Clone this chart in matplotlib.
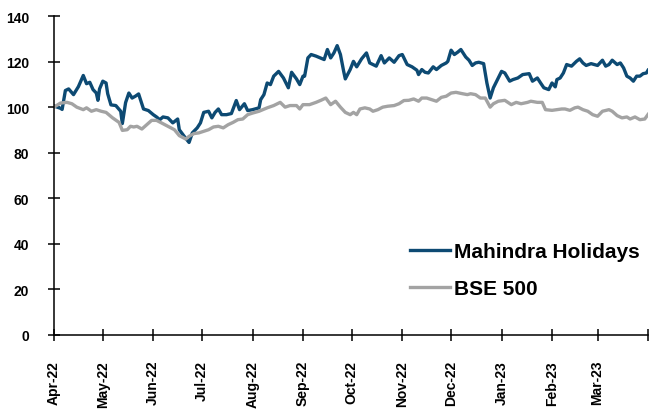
import matplotlib
matplotlib.use("Agg")
import matplotlib.pyplot as plt
import pandas as pd

# 讀圖估計的數值（以 2022-04-01 為第 0 天）
start = pd.Timestamp("2022-04-01")

mhrl_days = [0, 4, 5, 7, 9, 12, 15, 18, 20, 22, 24, 26, 27, 28, 30, 32, 33, 35, 38, 41,
             42, 44, 46, 48, 50, 52, 55, 58, 61, 63, 65, 67, 70, 73, 76, 77, 80, 83, 85, 88,
             90, 92, 95, 97, 99, 101, 103, 106, 109, 112, 114, 117, 119, 122, 126, 127, 129, 131, 133, 135,
             138, 141, 144, 146, 149, 151, 153, 154, 156, 158, 161, 166, 168, 170, 172, 174, 176, 178, 179, 182,
             184, 186, 189, 192, 194, 196, 198, 201, 203, 206, 209, 212, 214, 217, 220, 223, 224, 226, 228, 230,
             233, 235, 238, 241, 242, 244, 246, 248, 250, 253, 255, 257, 259, 261, 264, 266, 268, 270, 272, 275,
             277, 280, 282, 285, 288, 292, 294, 297, 299, 301, 304, 306, 308, 309, 311, 313, 315, 318, 321, 323,
             325, 327, 330, 334, 337, 339, 341, 343, 346, 348, 350, 352, 354, 356, 358, 360, 362, 364, 365]
mhrl_vals = [100.5, 99.5, 99.0, 107.3, 108.0, 105.5, 109.0, 113.9, 110.3, 110.9, 107.7, 106.2, 103.0, 108.0, 111.4, 110.6, 105.9, 101.0, 100.7, 98.2,
             92.8, 102.0, 106.2, 104.0, 104.8, 105.8, 99.2, 98.5, 96.7, 95.7, 94.5, 95.7, 95.3, 93.1, 94.8, 90.1, 87.2, 84.5, 88.7, 90.9,
             93.1, 97.7, 98.2, 95.3, 97.7, 99.2, 96.7, 96.7, 97.2, 102.9, 98.9, 101.5, 98.5, 98.9, 99.7, 103.3, 105.5, 110.6, 109.9, 113.6,
             115.7, 112.8, 108.5, 115.3, 112.4, 109.9, 113.6, 113.6, 121.6, 123.1, 122.4, 120.9, 125.3, 121.6, 123.8, 127.0, 123.1, 115.7, 112.4, 116.5,
             120.1, 117.7, 121.2, 123.8, 119.4, 118.7, 118.0, 122.6, 119.4, 121.6, 119.7, 122.6, 123.1, 118.7, 117.7, 116.2, 114.3, 116.5, 115.3, 115.0,
             117.7, 116.5, 118.3, 119.4, 120.1, 125.0, 123.1, 124.1, 125.3, 122.0, 120.6, 118.3, 119.4, 119.7, 119.1, 110.6, 104.0, 108.5, 111.4, 115.7,
             115.0, 111.4, 112.1, 112.8, 114.3, 114.7, 111.4, 112.8, 110.6, 108.5, 107.7, 110.6, 108.9, 112.1, 112.8, 115.0, 118.7, 118.0, 120.1, 121.2,
             119.4, 118.3, 119.1, 118.3, 120.6, 118.0, 118.7, 120.6, 118.7, 119.4, 117.2, 113.6, 112.8, 111.4, 113.6, 113.6, 114.7, 115.0, 116.2]

bse_days = [0, 4, 8, 11, 14, 18, 20, 23, 26, 29, 32, 36, 40, 42, 45, 47, 49, 51, 54, 57,
            60, 63, 66, 70, 74, 77, 81, 83, 86, 89, 92, 95, 98, 101, 104, 107, 110, 113, 116, 119,
            122, 126, 131, 135, 139, 142, 145, 149, 151, 153, 157, 161, 164, 167, 170, 173, 176, 179, 182, 184,
            186, 188, 191, 194, 196, 199, 202, 205, 209, 212, 215, 218, 221, 224, 226, 229, 232, 235, 238, 241,
            244, 247, 251, 254, 256, 259, 262, 265, 268, 270, 273, 277, 281, 284, 287, 291, 293, 297, 300, 302,
            306, 309, 312, 314, 317, 320, 322, 325, 328, 331, 334, 337, 341, 343, 346, 349, 352, 354, 357, 360,
            363, 365]
bse_vals = [100.0, 101.8, 102.1, 101.5, 100.0, 98.9, 99.7, 98.2, 98.9, 98.2, 97.7, 95.3, 93.3, 89.8, 90.1, 91.6, 91.3, 91.6, 90.4, 92.3,
            94.2, 94.2, 93.1, 91.6, 90.1, 87.5, 86.0, 87.2, 88.4, 88.7, 89.4, 90.1, 91.3, 91.6, 90.9, 92.3, 93.3, 94.5, 94.8, 96.7,
            97.4, 98.2, 99.7, 100.7, 102.1, 100.0, 100.7, 100.7, 99.2, 101.1, 101.1, 102.1, 103.0, 104.0, 101.1, 102.6, 100.0, 97.7, 96.7, 97.7,
            96.7, 99.2, 99.7, 99.2, 98.2, 98.9, 100.0, 100.4, 100.7, 101.5, 102.9, 103.0, 103.6, 102.6, 104.0, 104.0, 103.3, 102.6, 104.3, 104.8,
            106.2, 106.5, 105.9, 105.5, 105.9, 105.5, 104.0, 104.0, 100.0, 101.5, 102.6, 103.0, 101.1, 102.1, 101.5, 102.1, 102.6, 102.1, 102.1, 98.9,
            98.6, 98.9, 99.2, 99.2, 98.6, 99.7, 100.0, 98.9, 98.2, 96.7, 96.0, 98.2, 98.9, 98.2, 96.3, 95.3, 95.7, 94.8, 95.7, 94.5,
            94.8, 96.8]

month_labels = ["Apr-22", "May-22", "Jun-22", "Jul-22", "Aug-22", "Sep-22", "Oct-22",
                "Nov-22", "Dec-22", "Jan-23", "Feb-23", "Mar-23", ""]

mhrl_dates = start + pd.to_timedelta(mhrl_days, unit="D")
bse_dates = start + pd.to_timedelta(bse_days, unit="D")

font = ["Liberation Sans", "DejaVu Sans"]
plt.rcParams["font.family"] = font
plt.rcParams["font.weight"] = "bold"

fig = plt.figure(figsize=(6.52, 4.10), dpi=100)
ax = fig.add_axes([0.0828, 0.1805, 0.9111, 0.778])

ax.plot(mhrl_dates, mhrl_vals, color="#0D4A73", lw=2.4, label="Mahindra Holidays")
ax.plot(bse_dates, bse_vals, color="#A3A3A3", lw=2.4, label="BSE 500")

tick_dates = pd.date_range("2022-04-01", "2023-04-01", freq="MS")
ax.set_xticks(tick_dates)
ax.set_xticklabels(month_labels, rotation=90, ha="center", va="top", fontsize=10, fontweight="bold")
ax.set_xlim(start, pd.Timestamp("2023-04-01"))
ax.set_ylim(0, 140)
ax.set_yticks(range(0, 141, 20))
ax.set_yticklabels([str(v) for v in range(0, 141, 20)], fontsize=10, fontweight="bold")

for s in ["top", "right"]:
    ax.spines[s].set_visible(False)
for s in ["left", "bottom"]:
    ax.spines[s].set_linewidth(1.1)
ax.tick_params(axis="both", direction="inout", length=8, width=1.1, pad=14)

ax.legend(loc="upper left", bbox_to_anchor=(0.6, 0.29), frameon=False,
          prop={"family": font, "weight": "bold", "size": 15},
          handlelength=1.9, handletextpad=0.2, labelspacing=0.85,
          borderpad=0, borderaxespad=0)

fig.savefig("out.png", dpi=100)
